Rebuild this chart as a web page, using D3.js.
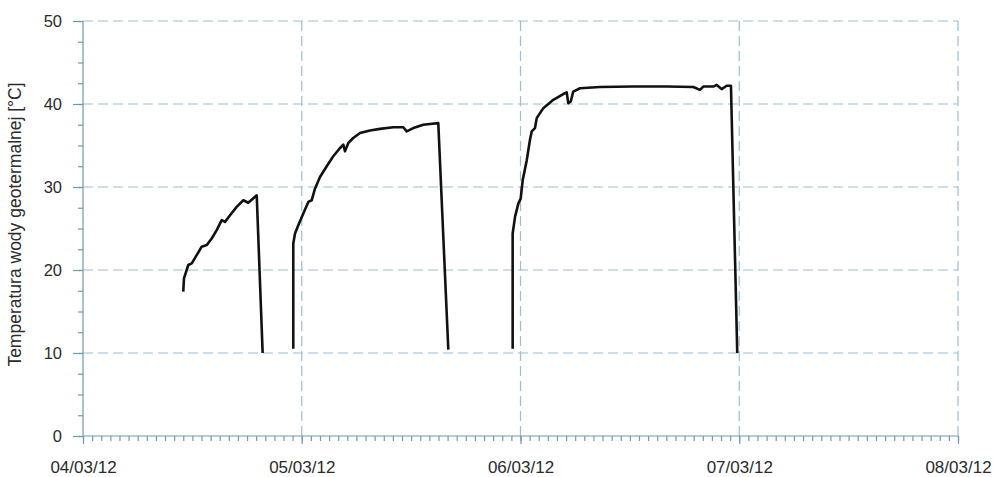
<!DOCTYPE html>
<html>
<head>
<meta charset="utf-8">
<script src="https://cdn.jsdelivr.net/npm/d3@7"></script>
<style>
  body { margin: 0; background: #fff; }
  svg { display: block; font-family: "Liberation Sans", Arial, sans-serif; }
  .tick text { fill: #2b2b2b; }
</style>
</head>
<body>
<svg id="chart"></svg>
<script>
const width = 993;
const height = 477;

// hours since 04/03/12 00:00 and temperature [°C], one array pair per heating run
const run1Hours = [11.0, 11.08, 11.55, 11.93, 12.47, 13.02, 13.57, 14.12, 14.67, 15.22, 15.58, 16.13, 16.86, 17.59, 18.13, 19.06, 19.71];
const run1Temps = [17.4, 19.0, 20.6, 20.8, 21.8, 22.8, 23.0, 23.8, 24.8, 26.0, 25.8, 26.6, 27.6, 28.4, 28.1, 29.0, 10.0];

const run2Hours = [23.07, 23.07, 23.26, 23.62, 24.17, 24.72, 25.09, 25.45, 26.0, 26.74, 27.46, 28.2, 28.56, 28.74, 29.11, 29.65, 30.39, 31.49, 32.58, 34.04, 35.14, 35.51, 36.24, 37.33, 38.07, 38.98, 40.08];
const run2Temps = [10.5, 23.2, 24.4, 25.4, 26.8, 28.2, 28.4, 29.8, 31.2, 32.5, 33.7, 34.7, 35.1, 34.3, 35.3, 35.9, 36.5, 36.8, 37.0, 37.2, 37.2, 36.7, 37.1, 37.5, 37.6, 37.7, 10.4];

const run3Hours = [47.14, 47.14, 47.4, 47.76, 48.02, 48.24, 48.68, 49.04, 49.23, 49.59, 49.78, 50.5, 51.6, 52.69, 53.07, 53.24, 53.51, 53.79, 54.53, 56.72, 60.37, 64.04, 66.96, 67.69, 68.05, 69.15, 69.52, 70.07, 70.62, 71.09, 71.78];
const run3Temps = [10.5, 24.4, 26.4, 28.0, 28.6, 30.8, 33.2, 35.7, 36.7, 37.1, 38.3, 39.5, 40.5, 41.2, 41.4, 40.1, 40.3, 41.5, 41.9, 42.05, 42.1, 42.1, 42.05, 41.7, 42.1, 42.1, 42.3, 41.8, 42.2, 42.2, 10.0];

const runs = [[run1Hours, run1Temps], [run2Hours, run2Temps], [run3Hours, run3Temps]];

const startDate = new Date(2012, 2, 4);
const endDate = new Date(2012, 2, 8);
const yTicks = [0, 10, 20, 30, 40, 50];
const yLabel = 'Temperatura wody geotermalnej [°C]';

const margin = { top: 21, right: 35, bottom: 41, left: 83 };
const usableArea = {
  left: margin.left,
  right: width - margin.right,
  top: margin.top,
  bottom: height - margin.bottom,
};

const gridColor = '#9dbdd2';
const axisColor = '#6f99b0';

const svg = d3.select('#chart')
  .attr('width', width)
  .attr('height', height);

const xScale = d3.scaleTime()
  .domain([startDate, endDate])
  .range([usableArea.left, usableArea.right]);

const yScale = d3.scaleLinear()
  .domain([0, 50])
  .range([usableArea.bottom, usableArea.top]);

// dashed gridlines
const grid = svg.append('g').attr('class', 'grid')
  .attr('stroke', gridColor)
  .attr('stroke-width', 1.2)
  .attr('stroke-dasharray', '10,5');

grid.selectAll('line.h')
  .data(yTicks.filter(d => d > 0))
  .join('line')
  .attr('class', 'h')
  .attr('x1', usableArea.left)
  .attr('x2', usableArea.right)
  .attr('y1', d => yScale(d))
  .attr('y2', d => yScale(d));

grid.selectAll('line.v')
  .data(d3.timeDay.range(d3.timeDay.offset(startDate, 1), d3.timeDay.offset(endDate, 1)))
  .join('line')
  .attr('class', 'v')
  .attr('x1', d => xScale(d))
  .attr('x2', d => xScale(d))
  .attr('y1', usableArea.top)
  .attr('y2', usableArea.bottom);

// minor ticks
const xMinor = d3.axisBottom(xScale)
  .ticks(d3.timeHour.every(1))
  .tickSize(5)
  .tickFormat('');
svg.append('g')
  .attr('class', 'x-minor')
  .attr('transform', `translate(0, ${usableArea.bottom})`)
  .call(xMinor);

const yMinor = d3.axisLeft(yScale)
  .tickValues(d3.range(0, 50.01, 2.5))
  .tickSize(5)
  .tickFormat('');
svg.append('g')
  .attr('class', 'y-minor')
  .attr('transform', `translate(${usableArea.left}, 0)`)
  .call(yMinor);

// major axes
const xAxis = d3.axisBottom(xScale)
  .ticks(d3.timeDay.every(1))
  .tickSize(8)
  .tickPadding(17)
  .tickFormat(d3.timeFormat('%d/%m/%y'));
svg.append('g')
  .attr('class', 'x-axis')
  .attr('transform', `translate(0, ${usableArea.bottom})`)
  .call(xAxis)
  .style('font-size', '17px');

const yAxis = d3.axisLeft(yScale)
  .tickValues(yTicks)
  .tickSize(10)
  .tickPadding(11);
svg.append('g')
  .attr('class', 'y-axis')
  .attr('transform', `translate(${usableArea.left}, 0)`)
  .call(yAxis)
  .style('font-size', '16.5px');

svg.selectAll('.domain, .tick line')
  .attr('stroke', axisColor)
  .attr('stroke-width', 1.2);
// plain domain lines without outer ticks
svg.select('.x-axis .domain')
  .attr('d', `M${usableArea.left},0H${usableArea.right}`);
svg.select('.y-axis .domain')
  .attr('d', `M0,${usableArea.top}V${usableArea.bottom}`);
svg.selectAll('.x-minor .domain, .y-minor .domain').remove();
svg.selectAll('g.x-axis, g.y-axis, g.x-minor, g.y-minor').attr('font-family', null);

// y label
svg.append('text')
  .attr('transform', `translate(21, ${(usableArea.top + usableArea.bottom) / 2 - 4}) rotate(-90)`)
  .attr('text-anchor', 'middle')
  .attr('fill', '#2b2b2b')
  .style('font-size', '17.5px')
  .text(yLabel);

// temperature lines
const line = d3.line()
  .x(d => xScale(new Date(startDate.getTime() + d[0] * 3600e3)))
  .y(d => yScale(d[1]));

svg.append('g')
  .attr('class', 'runs')
  .selectAll('path')
  .data(runs.map(([hours, temps]) => hours.map((h, i) => [h, temps[i]])))
  .join('path')
  .attr('d', line)
  .attr('fill', 'none')
  .attr('stroke', '#111')
  .attr('stroke-width', 2.6)
  .attr('stroke-linejoin', 'round');
</script>
</body>
</html>
